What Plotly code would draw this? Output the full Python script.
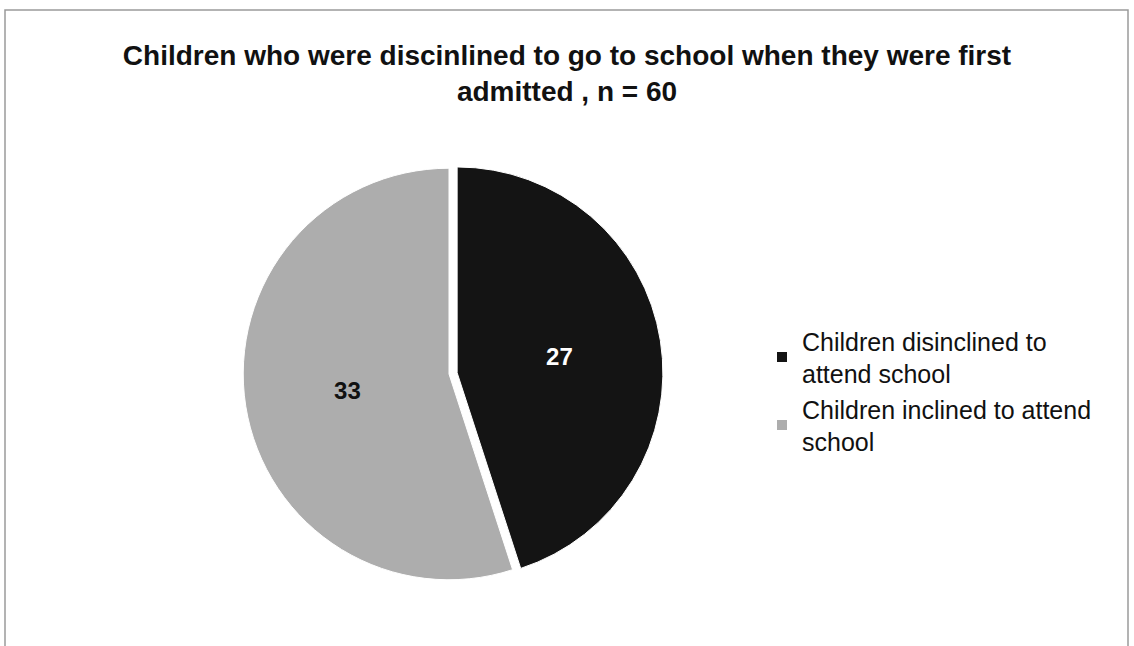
import plotly.graph_objects as go

labels = ["Children disinclined to<br>attend school", "Children inclined to attend<br>school"]
values = [27, 33]
colors = ["#141414", "#adadad"]
text_colors = ["#ffffff", "#111111"]
title_text = "<b>Children who were discinlined to go to school when they were first<br>admitted , n = 60</b>"

W, H = 1134, 646

fig = go.Figure()
fig.add_trace(go.Pie(
    labels=labels,
    values=values,
    sort=False,
    direction="clockwise",
    rotation=0,
    pull=[0.04, 0],
    marker=dict(colors=colors, line=dict(color="#ffffff", width=1)),
    textinfo="value",
    textposition="inside",
    insidetextfont=dict(color=text_colors, size=24, family="Liberation Sans"),
    texttemplate="<b>%{value}</b>",
    hoverinfo="label+value",
    domain=dict(x=[(449 - 214) / W, (449 + 214) / W], y=[1 - (374 + 214) / H, 1 - (374 - 214) / H]),
))

fig.update_layout(
    width=W, height=H,
    margin=dict(l=0, r=0, t=0, b=0),
    paper_bgcolor="#ffffff",
    plot_bgcolor="#ffffff",
    font=dict(family="Liberation Sans", color="#111111"),
    title=dict(text=title_text, x=0.5, xanchor="center", y=1 - 65 / H, yanchor="middle",
               font=dict(size=28, family="Liberation Sans", color="#111111")),
    showlegend=True,
    legend=dict(x=762 / W, xanchor="left", y=1 - 391 / H, yanchor="middle",
                font=dict(size=25, color="#111111"), itemsizing="constant",
                tracegroupgap=12, bgcolor="rgba(0,0,0,0)"),
    shapes=[dict(type="rect", xref="paper", yref="paper",
                 x0=5 / W, x1=1128 / W, y0=-0.05, y1=1 - 10 / H,
                 line=dict(color="#9a9a9a", width=1.5), fillcolor="rgba(0,0,0,0)")],
)

fig.write_html("out.html")
